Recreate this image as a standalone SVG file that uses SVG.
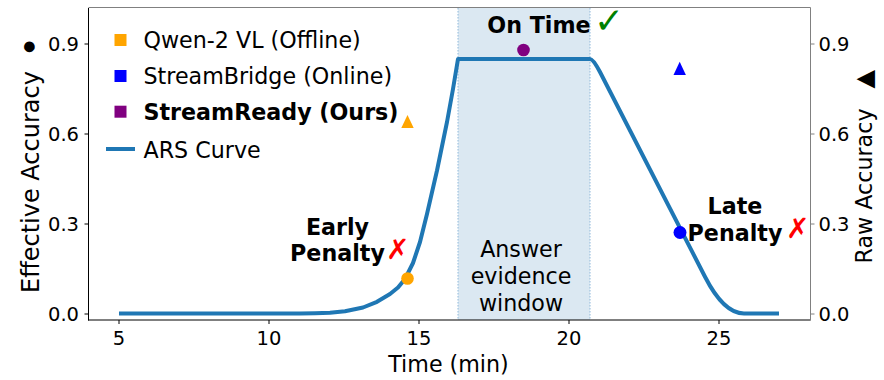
<svg xmlns="http://www.w3.org/2000/svg" width="884" height="380" viewBox="0 0 884 380">
<style>
text{font-family:"DejaVu Sans","Liberation Sans",sans-serif;fill:#000}
.tick{font-size:19.5px}
.lab{font-size:22.2px}
.b{font-weight:bold}
.tk{stroke:#000;stroke-width:1}
.tkg{stroke:#808080;stroke-width:1}
</style>
<rect width="884" height="380" fill="#fff"/>
<g id="window">
<rect x="458" y="8" width="132" height="312" fill="#dbe8f2"/>
<line x1="458" y1="8" x2="458" y2="320" stroke="#8fb8da" stroke-width="1" stroke-dasharray="1.5,1.5"/>
<line x1="590" y1="8" x2="590" y2="320" stroke="#8fb8da" stroke-width="1" stroke-dasharray="1.5,1.5"/>
</g>
<g id="streamready-dot"><circle cx="523.5" cy="50" r="6.3" fill="#800080"/></g>
<g id="connectors">
<path id="ars-curve" fill="none" stroke="#1f77b4" stroke-width="4" stroke-linejoin="round" stroke-linecap="butt"
d="M119,313.6 L280,313.5 L300,313.4 L315,313.2 L330,312.8 L345,311.3 L363,307.5 L377,301.8 L390,294 L398,287.5 L405,279 L413,263 L420,242 L427,214 L437,170.5 L447,122 L453,89 L456,71 L458,59 L590,59 Q593.1,59 600,72 L705,276.75 Q723.8,313.5 744,313.5 L779,313.5"/>
</g>
<g id="markers">
<circle cx="407.5" cy="278.5" r="6.3" fill="#FFA500"/>
<polygon points="407.5,115 401.3,128 413.7,128" fill="#FFA500"/>
<circle cx="680" cy="232.5" r="6.5" fill="#0000FF"/>
<polygon points="679.7,61.7 673.5,75 685.9,75" fill="#0000FF"/>
</g>
<g id="axes">
<line x1="88.5" y1="8" x2="88.5" y2="320.5" stroke="#000" stroke-width="1"/>
<line x1="88" y1="320" x2="810.5" y2="320" stroke="#000" stroke-width="1"/>
<line x1="88.5" y1="7.5" x2="810.5" y2="7.5" stroke="#808080" stroke-width="1"/>
<line x1="810.5" y1="7.5" x2="810.5" y2="320.5" stroke="#808080" stroke-width="1"/>
<line class="tk" x1="84.5" y1="44" x2="88.5" y2="44"/>
<line class="tk" x1="84.5" y1="134" x2="88.5" y2="134"/>
<line class="tk" x1="84.5" y1="224" x2="88.5" y2="224"/>
<line class="tk" x1="84.5" y1="314" x2="88.5" y2="314"/>
<line class="tkg" x1="810.5" y1="44" x2="814.5" y2="44"/>
<line class="tkg" x1="810.5" y1="134" x2="814.5" y2="134"/>
<line class="tkg" x1="810.5" y1="224" x2="814.5" y2="224"/>
<line class="tkg" x1="810.5" y1="314" x2="814.5" y2="314"/>
<line class="tk" x1="119" y1="320" x2="119" y2="324"/>
<line class="tk" x1="269" y1="320" x2="269" y2="324"/>
<line class="tk" x1="419" y1="320" x2="419" y2="324"/>
<line class="tk" x1="569" y1="320" x2="569" y2="324"/>
<line class="tk" x1="719" y1="320" x2="719" y2="324"/>
<g class="tick" text-anchor="end">
<text x="79" y="51">0.9</text>
<text x="79" y="141">0.6</text>
<text x="79" y="231">0.3</text>
<text x="79" y="321">0.0</text>
</g>
<g class="tick">
<text x="818.5" y="51">0.9</text>
<text x="818.5" y="141">0.6</text>
<text x="818.5" y="231">0.3</text>
<text x="818.5" y="321">0.0</text>
</g>
<g class="tick" text-anchor="middle">
<text x="119" y="345">5</text>
<text x="269" y="345">10</text>
<text x="419" y="345">15</text>
<text x="569" y="345">20</text>
<text x="719" y="345">25</text>
</g>
<text class="lab" x="448.5" y="371.5" text-anchor="middle">Time (min)</text>
<text class="lab" transform="translate(39,293) rotate(-90)" style="font-size:24px">Effective Accuracy <tspan x="240" dy="-6" style="font-size:14px">●</tspan></text>
<text class="lab" transform="translate(872,263.5) rotate(-90)">Raw Accuracy <tspan x="175" style="font-size:24px">▲</tspan></text>
</g>
<g id="legend">
<rect x="114.5" y="34" width="12" height="12" fill="#FFA500"/>
<text class="lab" x="143.5" y="48">Qwen-2 VL (Offline)</text>
<rect x="114.5" y="70" width="12" height="12" fill="#0000FF"/>
<text class="lab" x="143.5" y="84">StreamBridge (Online)</text>
<rect x="114.5" y="105.7" width="12" height="12" fill="#800080"/>
<text class="lab b" x="143.5" y="120">StreamReady (Ours)</text>
<line x1="106" y1="149" x2="135" y2="149" stroke="#1f77b4" stroke-width="4"/>
<text class="lab" x="143.5" y="157.5">ARS Curve</text>
</g>
<g id="on-time">
<text class="lab b" x="539" y="33" text-anchor="middle">On Time</text>
<text x="594" y="33" style="font-size:36px;fill:#008000">✓</text>
</g>
<g id="early-penalty">
<text class="lab b" text-anchor="middle"><tspan x="337.5" y="235">Early</tspan><tspan x="337.5" y="261">Penalty</tspan></text>
<text x="386" y="259" style="font-size:28px;fill:#FF0000">✗</text>
</g>
<g id="late-penalty">
<text class="lab b" text-anchor="middle"><tspan x="735" y="214">Late</tspan><tspan x="735" y="240.5">Penalty</tspan></text>
<text x="786" y="238" style="font-size:28px;fill:#FF0000">✗</text>
</g>
<g id="window-label">
<text class="lab" text-anchor="middle"><tspan x="521" y="257">Answer</tspan><tspan x="521" y="284">evidence</tspan><tspan x="521" y="311">window</tspan></text>
</g>
</svg>
